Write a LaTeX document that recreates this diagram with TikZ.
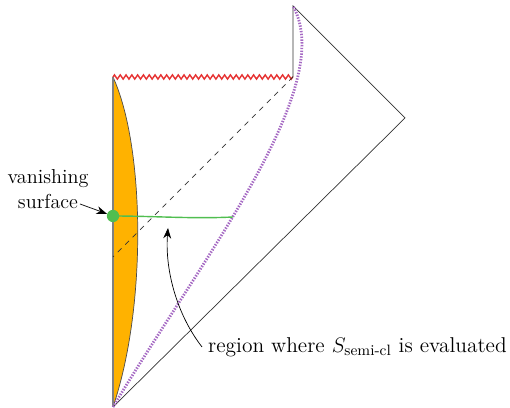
\documentclass[tikz,border=0pt]{standalone}
\usepackage{amsmath,amssymb}
\usepackage{xcolor}
\usetikzlibrary{positioning, calc, arrows.meta, decorations.pathmorphing}

\definecolor{horizonorange}{RGB}{255,178,0}
\definecolor{islandgreen}{RGB}{80,190,80}
\definecolor{qesviolet}{RGB}{165,105,195}
\definecolor{singred}{RGB}{230,50,50}

\begin{document}
\begin{tikzpicture}[x=0.02cm,y=0.02cm]
        \useasboundingbox (-113,-1) rectangle (397,407);

        % ==========================================
        % Corners of the diagram
        % ==========================================
        \coordinate (B) at (0,0);
        \coordinate (S1) at (0,330);
        \coordinate (S2) at (180,330);
        \coordinate (T) at (180,401);
        \coordinate (R) at (292,289);
        \coordinate (D) at (0,150);
        \coordinate (G) at (120,190);

        % Orange region (left wedge)
        \fill[horizonorange] (S1) .. controls (32,260) and (34,100) .. (B) -- cycle;
        \draw[black!70, thin] (S1) .. controls (32,260) and (34,100) .. (B);
        \draw[gray, thick] (B) -- (S1);

        % Singularity
        \draw[singred, thick, decorate,
              decoration={zigzag, segment length=3.3pt, amplitude=1.2pt}] (S1) -- (S2);

        % Boundaries
        \draw[black!80] (S2) -- (T) -- (R) -- (B);
        \draw[dashed, black!80] (S2) -- (D);

        % Dotted curve
        \draw[qesviolet, line width=1.6pt, dash pattern=on 0.8pt off 0.8pt]
            (B) .. controls (90,150) and (225,320) .. (T);

        % Green slice
        \node[circle, fill=islandgreen, inner sep=0pt, minimum size=7pt] (dot) at (0,191) {};
        \draw[islandgreen, thick] (dot.center) .. controls (40,191) and (80,188) .. (G);

        % ==========================================
        % Labels
        % ==========================================
        \node[align=center, font=\fontsize{11.5pt}{14pt}\selectfont] (vanlabel) at (-65,218) {vanishing\\surface};
        \coordinate (va) at (-33,203);
        \draw[-{Stealth[length=6pt]}] (va) -- (dot);

        \node[anchor=west, font=\fontsize{12.2pt}{14pt}\selectfont] (regionlabel) at (89,60)
            {region where $S_{\text{semi-cl}}$ is evaluated};
        \draw[-{Stealth[length=6pt]}] (regionlabel.west) .. controls (62,95) and (52,140) .. (55,179);

    \end{tikzpicture}
\end{document}
